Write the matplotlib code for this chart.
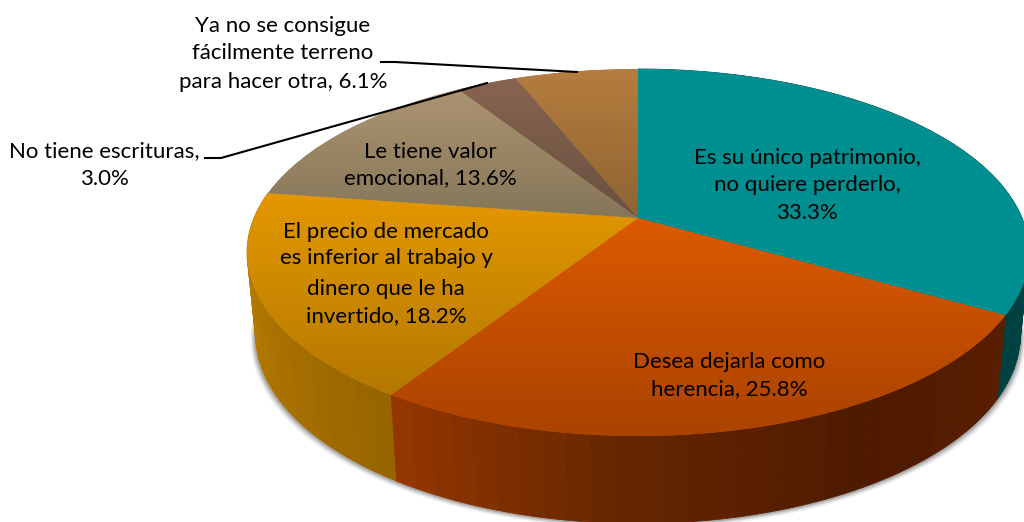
import numpy as np
import matplotlib
matplotlib.use('Agg')
import matplotlib.pyplot as plt
from matplotlib.transforms import Transform

shares = [33.3, 25.8, 18.2, 13.6, 3.0, 6.1]
label_lines = [
    ['Es su único patrimonio,', 'no quiere perderlo,', '33.3%'],
    ['Desea dejarla como', 'herencia, 25.8%'],
    ['El precio de mercado', 'es inferior al trabajo y', 'dinero que le ha', 'invertido, 18.2%'],
    ['Le tiene valor', 'emocional, 13.6%'],
    ['No tiene escrituras,', '3.0%'],
    ['Ya no se consigue', 'fácilmente terreno', 'para hacer otra, 6.1%'],
]

# where the text goes, in pixels
label_x = [807, 729, 386, 430, 104, 283]
label_y = [[158, 185, 213], [362, 389], [232, 258, 289, 316], [152, 178], [151, 179], [26, 53, 82]]

# gradient of the top face, (top colour, bottom colour)
top_colors = [
    ('#008f91', '#008f91'),
    ('#dc5a00', '#aa4200'),
    ('#e49800', '#b47800'),
    ('#ac9472', '#857658'),
    ('#876450', '#695041'),
    ('#b67d3e', '#8c6432'),
]
# colours along the wall, clockwise
wall_colors = [
    ['#004141', '#004141'],
    ['#5a1e00', '#4e1a00', '#652600', '#963700'],
    ['#966400', '#c88700'],
]

CX, CY = 638, 218
K = 0.188
A = 177
B = 384
WALL_SX = 0.978
WALL_SY = 1.03
WALL_DY = 81


class TiltTransform(Transform):
    # unit circle of the pie -> ellipse in pixels, with the far side squeezed
    input_dims = 2
    output_dims = 2
    is_separable = False
    has_inverse = False

    def transform_non_affine(self, values):
        values = np.asarray(values)
        w = 1 + K * values[:, 1]
        return np.column_stack([CX + B * values[:, 0] / w, CY - A * values[:, 1] / w])


def rim(theta):
    # theta in degrees clockwise from the top
    t = np.radians(theta)
    return TiltTransform().transform_non_affine(np.column_stack([np.sin(t), np.cos(t)]))


def lower_rim(theta):
    p = rim(theta)
    return np.column_stack([CX + (p[:, 0] - CX) * WALL_SX, CY + (p[:, 1] - CY) * WALL_SY + WALL_DY])


fig = plt.figure(figsize=(10.24, 5.22), dpi=100)
ax = fig.add_axes([0, 0, 1, 1])
plt.rcParams['font.family'] = ['Lato', 'DejaVu Sans']

edges = np.concatenate([[0], np.cumsum(shares)]) / sum(shares) * 360

# soft shadow under the wall
arc = np.linspace(85, 285, 200)
low = lower_rim(arc)
for off, alpha in [(5, 0.10), (3.5, 0.18), (2, 0.28)]:
    sx = CX + (low[:, 0] - CX) * (1 + off / 380)
    ax.fill(np.r_[sx, CX], np.r_[low[:, 1] + off, CY], color='#505050', alpha=alpha, lw=0)

# side wall, in narrow strips, the ones nearest the viewer last
for i in [0, 2, 1]:
    strips = np.arange(edges[i], edges[i + 1], 3.0)
    strips = np.append(strips, edges[i + 1])
    stops = np.array([matplotlib.colors.to_rgb(c) for c in wall_colors[i]])
    pos = np.linspace(0, 1, len(stops))
    pairs = list(zip(strips[:-1], strips[1:]))
    if i == 2:
        pairs = pairs[::-1]
    for a, b in pairs:
        f = ((a + b) / 2 - edges[i]) / (edges[i + 1] - edges[i])
        color = [np.interp(f, pos, stops[:, c]) for c in range(3)]
        seg = np.linspace(a, b, 6)
        up = rim(seg)
        down = lower_rim(seg)[::-1]
        ax.fill(np.r_[up[:, 0], down[:, 0]], np.r_[up[:, 1], down[:, 1]], color=color, lw=0.6)

tilt = TiltTransform() + ax.transData
mean_colors = []
for c0, c1 in top_colors:
    mean_colors.append(np.mean([matplotlib.colors.to_rgb(c0), matplotlib.colors.to_rgb(c1)], axis=0))
wedges, _ = ax.pie(shares, colors=mean_colors, startangle=90, counterclock=False, radius=1)

ax.set_aspect('auto')
ax.set_xlim(0, 1024)
ax.set_ylim(522, 0)
ax.axis('off')

for i, wedge in enumerate(wedges):
    wedge.set_transform(tilt)
    wedge.set_linewidth(0)
    # top and bottom of this slice in pixels, for the gradient
    ys = TiltTransform().transform_non_affine(wedge.get_path().vertices)[:, 1]
    c0 = np.array(matplotlib.colors.to_rgb(top_colors[i][0]))
    c1 = np.array(matplotlib.colors.to_rgb(top_colors[i][1]))
    g = np.linspace(0, 1, 128)[:, None, None]
    grad = c0[None, None, :] * (1 - g) + c1[None, None, :] * g
    im = ax.imshow(grad, extent=(0, 1024, ys.max(), ys.min()), aspect='auto', zorder=2)
    im.set_clip_path(wedge)

ax.set_xlim(0, 1024)
ax.set_ylim(522, 0)

# leader lines
ax.plot([381, 395, 577], [62, 62, 72], color='black', lw=1.5, zorder=3)
ax.plot([205, 221, 487], [158, 158, 83], color='black', lw=1.5, zorder=3)

for lines, x, ys in zip(label_lines, label_x, label_y):
    for line, y in zip(lines, ys):
        ax.text(x, y, line, ha='center', va='center', fontsize=16, color='black', zorder=4)

plt.savefig('out.png', dpi=100)
plt.close()
